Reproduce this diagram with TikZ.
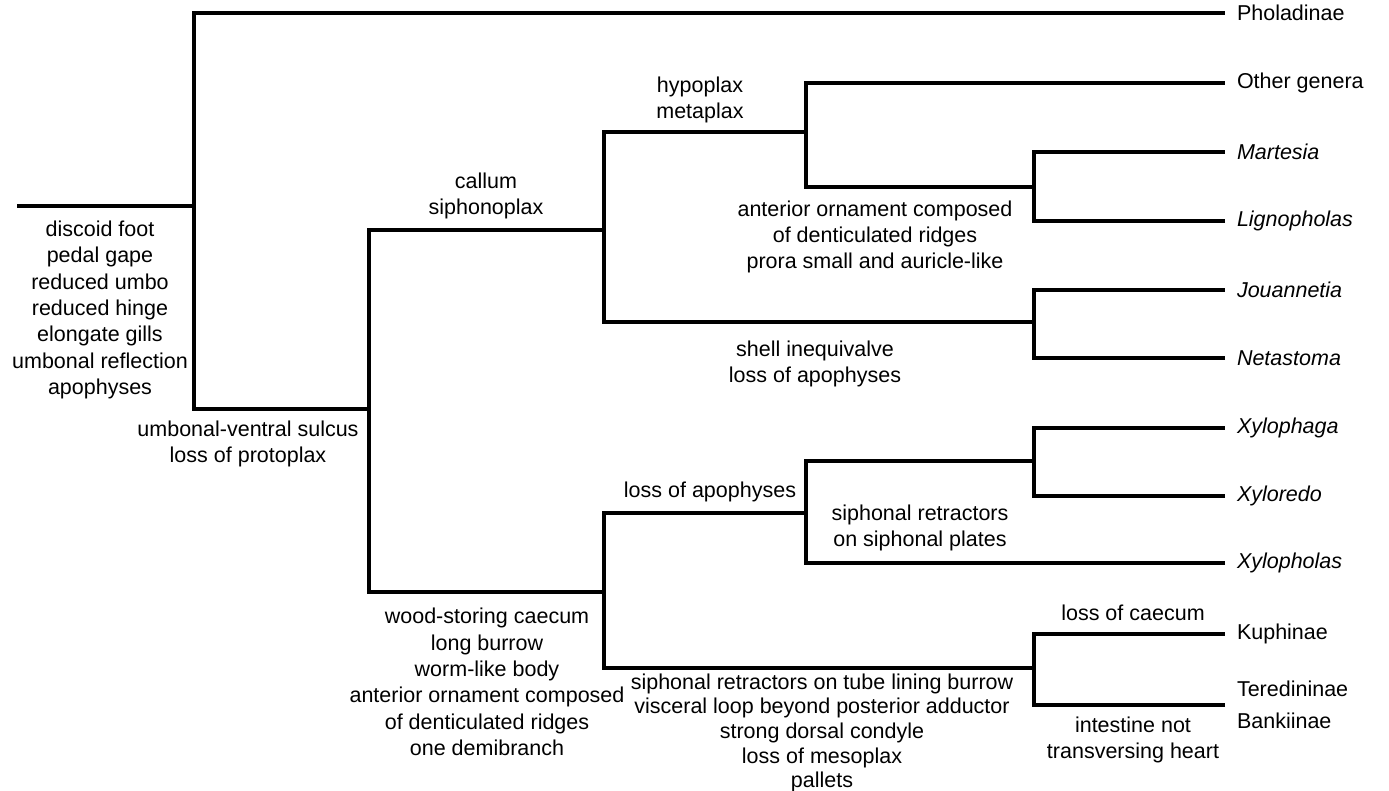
\documentclass[tikz,border=0pt]{standalone}
\usepackage{fontspec}
\setmainfont{Liberation Sans}
\usepackage{tikz}

\begin{document}
\begin{tikzpicture}[x=0.5pt,y=-0.5pt,line width=1.75pt,line join=miter,
                    font=\fontsize{10.75}{13.15}\selectfont]
  \tikzstyle{taxon}=[anchor=west,inner xsep=6pt,inner ysep=0pt,outer sep=0pt,align=left]
  \tikzstyle{genus}=[taxon,font=\fontsize{10.75}{13.15}\selectfont\itshape]
  \tikzstyle{trait}=[align=center,inner sep=0pt]

  \useasboundingbox (0,0) rectangle (1389,791);

  % branch points
  \coordinate (root) at (17,206);
  \coordinate (nA)   at (194,206);
  \coordinate (nB)   at (369,409);
  \coordinate (nC)   at (604,230);
  \coordinate (nD)   at (806,132);
  \coordinate (nE)   at (1034,187);
  \coordinate (nJ)   at (1034,322);
  \coordinate (nF)   at (604,592);
  \coordinate (nH)   at (806,513);
  \coordinate (nX)   at (1034,461);
  \coordinate (nG)   at (1034,668);

  % tips
  \node[taxon] (phol)  at (1225,13)  {Pholadinae};
  \node[taxon] (other) at (1225,83)  {Other genera};
  \node[genus] (mart)  at (1225,152) {Martesia};
  \node[genus] (lign)  at (1225,221) {Lignopholas};
  \node[genus] (joua)  at (1225,290) {Jouannetia};
  \node[genus] (neta)  at (1225,358) {Netastoma};
  \node[genus] (xpha)  at (1225,428) {Xylophaga};
  \node[genus] (xred)  at (1225,496) {Xyloredo};
  \node[genus] (xphol) at (1225,563) {Xylopholas};
  \node[taxon] (kuph)  at (1225,634) {Kuphinae};
  \node[taxon] (tere)  at (1225,705) {Teredininae\\[3pt]Bankiinae};

  % tree
  \draw (root) -- (nA);
  \draw (nB) -| (nA) |- (phol.west);
  \draw (nF) -| (nB) |- (nC);
  \draw (nJ) -| (nC) |- (nD);
  \draw (nE) -| (nD) |- (other.west);
  \draw (lign.west) -| (nE) |- (mart.west);
  \draw (neta.west) -| (nJ) |- (joua.west);
  \draw (nG) -| (nF) |- (nH);
  \draw (xphol.west) -| (nH) |- (nX);
  \draw (xred.west) -| (nX) |- (xpha.west);
  \draw (tere.west) -| (nG) |- (kuph.west);

  % characters
  \node[trait] (tRoot) at (100,310) {discoid foot\\pedal gape\\reduced umbo\\reduced hinge\\elongate gills\\umbonal reflection\\apophyses};
  \node[trait] (tAB)   at (248,444) {umbonal-ventral sulcus\\loss of protoplax};
  \node[trait] (tBC)   at (486,196) {callum\\siphonoplax};
  \node[trait] (tCD)   at (700,100) {hypoplax\\metaplax};
  \node[trait] (tDE)   at (875,237) {anterior ornament composed\\of denticulated ridges\\prora small and auricle-like};
  \node[trait] (tCJ)   at (815,364) {shell inequivalve\\loss of apophyses};
  \node[trait] (tFH)   at (710,492) {loss of apophyses};
  \node[trait] (tHX)   at (920,528) {siphonal retractors\\on siphonal plates};
  \node[trait] (tBF)   at (487,682) {wood-storing caecum\\long burrow\\worm-like body\\anterior ornament composed\\of denticulated ridges\\one demibranch};
  \node[trait,font=\fontsize{10.75}{12.3}\selectfont]
               (tFG)   at (822,733) {siphonal retractors on tube lining burrow\\visceral loop beyond posterior adductor\\strong dorsal condyle\\loss of mesoplax\\pallets};
  \node[trait] (tGK)   at (1133,613) {loss of caecum};
  \node[trait] (tGT)   at (1133,740) {intestine not\\transversing heart};
\end{tikzpicture}
\end{document}
